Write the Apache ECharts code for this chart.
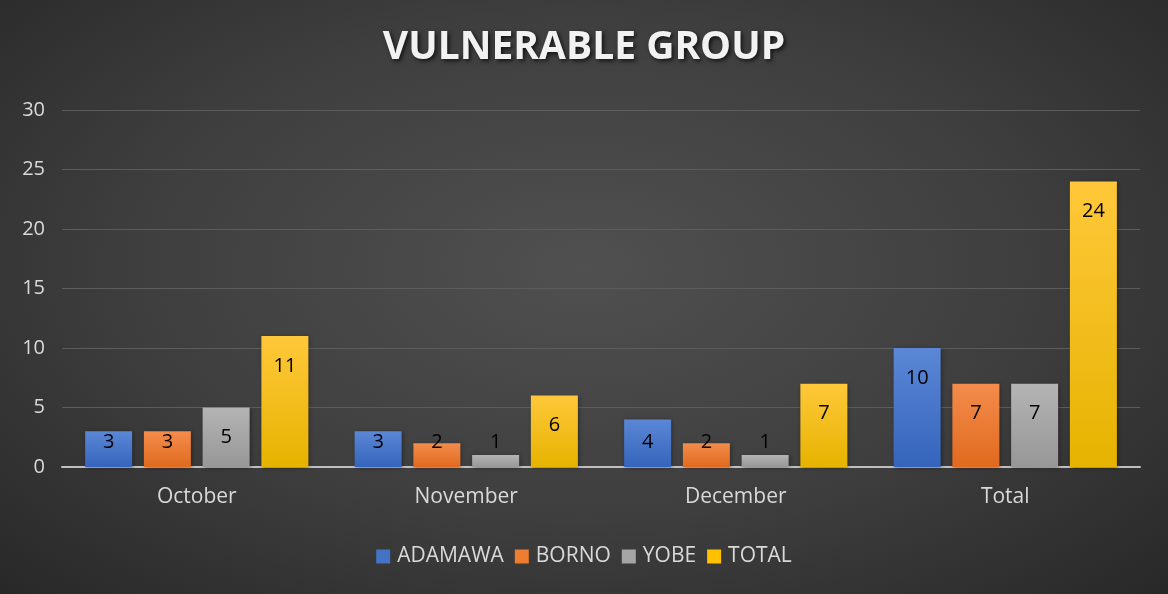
<!DOCTYPE html>
<html>
<head>
<meta charset="utf-8">
<script src="https://cdn.jsdelivr.net/npm/echarts@6/dist/echarts.min.js"></script>
<style>
  html, body { margin: 0; padding: 0; }
  #chart {
    width: 1168px;
    height: 594px;
    background: radial-gradient(ellipse at 50% 45%, #505050 0%, #3e3e3e 55%, #282828 100%);
  }
</style>
</head>
<body>
<div id="chart"></div>
<script>
const categories = ['October', 'November', 'December', 'Total']
const adamawa = [3, 3, 4, 10]
const borno = [3, 2, 2, 7]
const yobe = [5, 1, 1, 7]
const total = [11, 6, 7, 24]
const yTicks = { min: 0, max: 30, interval: 5 }

const chart = echarts.init(document.getElementById('chart'))

// vertical gradient, lighter on top like the Office style
const grad = (top, bottom) => new echarts.graphic.LinearGradient(0, 0, 0, 1, [
  { offset: 0, color: top },
  { offset: 1, color: bottom },
])

// short bars: label can't fit under the top, so pin it near the base
const withLabels = (data) => data.map((v) => ({
  value: v,
  label: v <= 4
    ? { position: 'insideBottom', distance: 15 }
    : { position: 'insideTop', distance: 20 },
}))

const makeSeries = (name, data, top, bottom) => ({
  name,
  type: 'bar',
  data: withLabels(data),
  barWidth: 47,
  barGap: '25%',
  itemStyle: {
    color: grad(top, bottom),
    shadowColor: 'rgba(0,0,0,0.35)',
    shadowBlur: 4,
    shadowOffsetX: 1,
    shadowOffsetY: 1,
  },
  label: {
    show: true,
    color: '#000',
    fontSize: 20,
    fontFamily: 'Open Sans',
  },
})

const option = {
  backgroundColor: 'transparent',
  title: {
    text: 'VULNERABLE GROUP',
    left: 'center',
    top: 23,
    textStyle: {
      color: '#f2f2f2',
      fontSize: 39,
      fontWeight: 'bold',
      fontFamily: 'Open Sans',
      textShadowColor: 'rgba(0,0,0,0.7)',
      textShadowBlur: 4,
      textShadowOffsetX: 2,
      textShadowOffsetY: 2,
    },
  },
  legend: {
    bottom: 22,
    left: 'center',
    itemWidth: 14,
    itemHeight: 14,
    itemGap: 11,
    icon: 'rect',
    textStyle: {
      color: '#d9d9d9',
      fontSize: 21,
      fontFamily: 'Open Sans',
      padding: [0, 0, 0, 2],
    },
    data: [
      { name: 'ADAMAWA', itemStyle: { color: '#4472c4' } },
      { name: 'BORNO', itemStyle: { color: '#ed7d31' } },
      { name: 'YOBE', itemStyle: { color: '#a5a5a5' } },
      { name: 'TOTAL', itemStyle: { color: '#ffc000' } },
    ],
  },
  grid: {
    left: 62,
    right: 28,
    top: 110,
    bottom: 127,
    containLabel: false,
  },
  xAxis: {
    type: 'category',
    data: categories,
    axisLine: { lineStyle: { color: '#bfbfbf', width: 2 } },
    axisTick: { show: false },
    axisLabel: {
      color: '#d9d9d9',
      fontSize: 21,
      fontFamily: 'Open Sans',
      margin: 20,
    },
  },
  yAxis: {
    type: 'value',
    min: yTicks.min,
    max: yTicks.max,
    interval: yTicks.interval,
    axisLine: { show: false },
    axisTick: { show: false },
    axisLabel: {
      color: '#d9d9d9',
      fontSize: 20,
      fontFamily: 'Open Sans',
      margin: 17,
    },
    splitLine: { lineStyle: { color: '#5c5c5c', width: 1 } },
  },
  series: [
    makeSeries('ADAMAWA', adamawa, '#5b87d6', '#3564bc'),
    makeSeries('BORNO', borno, '#f48c4c', '#e06a1e'),
    makeSeries('YOBE', yobe, '#b4b4b4', '#979797'),
    makeSeries('TOTAL', total, '#ffc83a', '#e6b300'),
  ],
}

chart.setOption(option)
</script>
</body>
</html>
